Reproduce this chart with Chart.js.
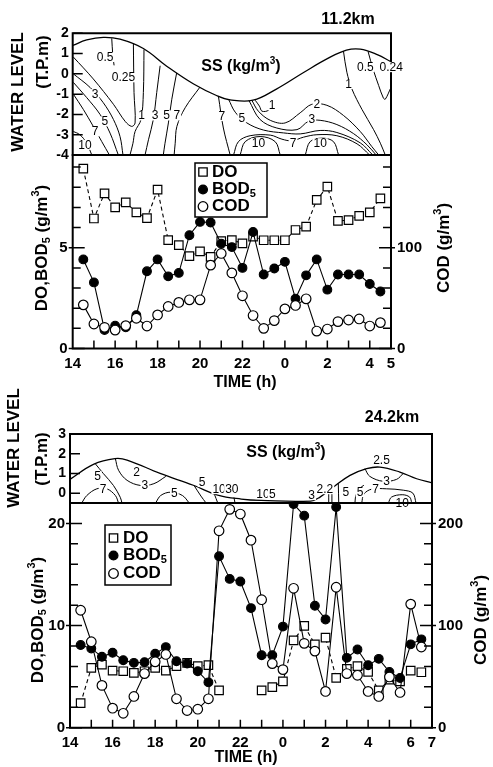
<!DOCTYPE html>
<html lang="en">
<head>
<meta charset="UTF-8">
<title>DO, BOD5, COD and SS at 11.2km / 24.2km</title>
<script src="https://cdn.jsdelivr.net/npm/chart.js@4.4.0/dist/chart.umd.min.js"></script>
<style>
    body { margin: 0; background: #fff; }
    #wrap { position: relative; width: 493px; height: 767px; }
    #wrap canvas { position: absolute; left: 0; top: 0; }
</style>
</head>
<body>
<div id="wrap">
    <canvas id="ss1" width="493" height="767"></canvas>
    <canvas id="wq1" width="493" height="767"></canvas>
    <canvas id="ss2" width="493" height="767"></canvas>
    <canvas id="wq2" width="493" height="767"></canvas>
</div>

<script>
const FONT = "'Liberation Sans', Arial, Helvetica, sans-serif";

// ---------- 11.2 km ----------
const hours1 = [14.5, 15, 15.5, 16, 16.5, 17, 17.5, 18, 18.5, 19, 19.5, 20, 20.5, 21, 21.5,
                22, 22.5, 23, 23.5, 24, 24.5, 25, 25.5, 26, 26.5, 27, 27.5, 28, 28.5];
const do1  = [8.92, 6.45, 7.7, 7.0, 7.25, 6.75, 6.47, 7.88, 5.38, 5.13, 4.58, 4.82, 4.55, 5.33, 5.38,
              5.22, 5.55, 5.37, 5.37, 5.37, 5.88, 6.05, 7.37, 8.03, 6.33, 6.37, 6.58, 6.75, 7.45];
const bod1 = [4.42, 3.28, 0.92, 1.13, 1.05, 1.65, 3.83, 4.42, 3.58, 3.75, 5.62, 6.28, 6.25, 5.2, 5.03,
              4.0, 5.78, 3.67, 3.97, 4.3, 2.47, 3.63, 4.42, 2.92, 3.67, 3.67, 3.67, 3.2, 2.83];
const cod1 = [43.3, 24.3, 21, 18.3, 22.7, 30, 22.3, 33.3, 41.7, 45.7, 48.3, 48.3, 82.7, 94.3, 75,
              52.3, 32.7, 20, 27.7, 39.3, 42.7, 49.3, 17.3, 19.3, 26.7, 28.3, 29.3, 22.3, 25.7];
const timeTicks1 = [14, 16, 18, 20, 22, 24, 26, 28, 29];
const doTicks1 = [0, 5];
const codTicks1 = [0, 100];
const levelTicks1 = [-4, -3, -2, -1, 0, 1, 2];

// water level (T.P.m) and SS contour lines (time h, level m)
const waterLevel1 = [[14, 1.4], [14.66, 1.67], [15.44, 1.8], [16.23, 1.71], [17.33, 1.25], [18.43, 0.38],
                     [19.7, -0.5], [20.8, -1.08], [21.42, -1.28], [22.5, -1.3], [23.6, -0.75], [24.9, 0.08],
                     [26.0, 0.75], [26.9, 1.17], [27.55, 1.22], [28.35, 0.95], [29, 0.6]];
const contours1 = [
    [[14.03, 0.83], [14.97, -0.25], [15.92, -1.5], [16.47, -2.34], [16.78, -2.59], [16.94, -2.42], [16.89, -0.92], [16.86, 1.5]],
    [[15.84, 1.75], [15.89, 0.92], [15.95, 0.42]],
    [[17.36, 1.2], [17.33, -0.92], [17.22, -2.25], [16.94, -2.84], [16.84, -3.42], [16.7, -4]],
    [[14.03, 0], [14.82, -0.67], [15.44, -1.42], [15.92, -2.25], [16.23, -3.09], [16.37, -4]],
    [[14.03, -0.42], [14.66, -1.17], [15.29, -2.0], [15.76, -2.92], [16.15, -4]],
    [[14.03, -1.0], [14.5, -1.75], [14.97, -2.59], [15.37, -3.34], [15.73, -4]],
    [[14.03, -2.84], [14.34, -3.0], [14.66, -3.42], [14.9, -4]],
    [[18.12, 0.4], [17.96, -0.92], [17.8, -2.25], [17.57, -3.25], [17.41, -4]],
    [[18.9, 0.05], [18.67, -1.25], [18.51, -2.42], [18.35, -3.42], [18.27, -4]],
    [[20.0, -0.65], [19.3, -1.67], [18.91, -2.59], [18.83, -3.42], [18.78, -4]],
    [[20.87, -1.12], [21.1, -2.67], [21.42, -4]],
    [[21.34, -1.24], [21.66, -1.89], [22.21, -2.42], [22.99, -2.77], [23.93, -2.91], [24.72, -2.96],
     [25.66, -2.79], [26.45, -2.89], [27.55, -3.4], [28.14, -4]],
    [[22.6, -1.3], [22.8, -1.59], [22.92, -1.84], [23.23, -1.79], [23.31, -1.5]],
    [[22.44, -1.3], [22.75, -1.84], [23.31, -2.29], [24.01, -2.42], [24.72, -1.92], [25.27, -1.5],
     [25.98, -1.55], [26.76, -2.05], [27.55, -2.84], [28.1, -3.59], [28.42, -4]],
    [[22.3, -1.3], [22.83, -2.25], [23.62, -2.67], [24.57, -2.75], [25.11, -2.34], [25.66, -2.29],
     [26.45, -2.5], [27.24, -2.95], [27.87, -3.5], [28.3, -4]],
    [[21.58, -4], [21.81, -3.34], [22.36, -3.05], [23.31, -3.02], [23.86, -3.22], [24.33, -3.3],
     [24.88, -3.12], [25.51, -3.0], [26.45, -3.05], [27.4, -3.45], [27.99, -4]],
    [[21.89, -4], [22.13, -3.34], [22.83, -3.09], [23.54, -3.34], [23.78, -4]],
    [[24.96, -4], [25.19, -3.34], [25.75, -3.17], [26.29, -3.34], [26.53, -4]],
    [[26.76, 1.12], [26.92, 0.08], [27.16, -0.75], [27.63, -1.75], [28.18, -2.75], [28.5, -3.42], [28.73, -4]],
    [[27.92, 1.1], [28.15, 0.25], [28.42, -0.58], [28.64, -1.19], [28.73, -1.25], [28.99, -0.69]]
];
const contourText1 = [
    ['0.5', 15.53, 0.83], ['0.25', 16.39, -0.17], ['3', 15.05, -1.0], ['5', 15.52, -2.34], ['7', 15.05, -2.84],
    ['10', 14.58, -3.5], ['1', 17.25, -2.05], ['3', 17.88, -2.05], ['5', 18.43, -2.05], ['7', 18.91, -2.05],
    ['7', 21.03, -2.08], ['5', 21.97, -2.17], ['1', 23.4, -1.54], ['2', 25.51, -1.5], ['3', 25.27, -2.25],
    ['10', 22.75, -3.42], ['7', 24.38, -3.42], ['10', 25.66, -3.42], ['1', 27.0, -0.5], ['0.5', 27.79, 0.33],
    ['0.24', 29.01, 0.33]
];

// ---------- 24.2 km ----------
const hours2 = [14.5, 15, 15.5, 16, 16.5, 17, 17.5, 18, 18.5, 19, 19.5, 20, 20.5, 21, 21.5, 22, 22.5,
                23, 23.5, 24, 24.5, 25, 25.5, 26, 26.5, 27, 27.5, 28, 28.5, 29, 29.5, 30, 30.5];
const do2  = [2.4, 5.86, 6.18, 5.59, 5.53, 5.36, 5.53, 5.86, 5.59, 6.02, 6.35, 6.02, 6.12, 3.65, null, null, null,
              3.65, 3.98, 4.54, 8.55, 9.97, 8.16, 8.82, 4.87, 5.76, 6.02, 5.46, 3.65, 4.7, 4.54, 5.59, 5.43];
const bod2 = [8.09, 7.76, 6.94, 7.34, 6.61, 6.35, 6.41, 7.24, 7.89, 6.51, 6.28, 5.53, 4.44, 16.78, 14.57, 14.31, 11.71,
              7.1, 7.1, 9.9, 21.9, 20.76, 11.94, 10.6, 21.6, 6.84, 7.66, 6.12, 6.74, 5.46, 4.87, 8.16, 8.65];
const cod2 = [115, 84.2, 41.4, 19.1, 14.1, 30.6, 53, 64.5, 71.7, 28.3, 16.8, 18.1, 28.3, 192.8, 213.8, 209.2, 183.6,
              125.3, 62.8, 56.9, 136.5, 82.6, 75, 35.5, 137.5, 53, 51.3, 35.5, 30.6, 49.7, 34.5, 121, 79];
const timeTicks2 = [14, 16, 18, 20, 22, 24, 26, 28, 30, 31];
const doTicks2 = [0, 10, 20];
const codTicks2 = [0, 100, 200];
const levelTicks2 = [0, 1, 2, 3];

const waterLevel2 = [[14, 0.7], [15.1, 1.46], [16.11, 1.75], [16.68, 1.68], [18.23, 1.0], [19.79, 0.4],
                     [20.94, -0.1], [22.04, -0.3], [22.98, -0.37], [25.3, -0.4], [25.74, -0.2], [26.36, 0.3],
                     [27.15, 0.9], [27.93, 1.24], [28.55, 1.32], [29.49, 1.07], [30.28, 0.73], [31, 0.52]];
const contours2 = [
    [[15.18, 1.5], [15.57, 0.99], [16.04, 0.39], [16.36, -0.21], [16.44, -0.5]],
    [[14.55, -0.5], [14.79, -0.12], [15.26, 0.22], [15.73, 0.22], [16.13, -0.12], [16.28, -0.5]],
    [[16.13, 1.75], [16.28, 1.16], [16.68, 0.65], [17.31, 0.39], [17.94, 0.48], [18.5, 0.85]],
    [[18.02, -0.5], [18.26, -0.12], [18.73, 0.05], [19.28, -0.12], [19.6, -0.5]],
    [[19.83, 0.38], [20.15, -0.15], [20.39, -0.5]],
    [[20.78, -0.05], [20.94, -0.5]],
    [[21.7, -0.22], [21.75, -0.5]],
    [[26.15, 0.1], [26.15, -0.5]],
    [[26.3, 0.3], [26.3, -0.5]],
    [[26.6, 0.5], [26.62, -0.5]],
    [[27.38, -0.5], [27.43, -0.1], [27.62, 0.25], [27.8, 0.4]],
    [[27.7, -0.5], [27.8, -0.05], [28.16, 0.2], [28.87, 0.22], [29.65, 0.15], [30.1, 0.0], [30.25, -0.5]],
    [[28.95, -0.5], [29.1, -0.2], [29.6, -0.08], [29.95, -0.2], [30.05, -0.5]],
    [[27.85, 1.24], [28.08, 0.85], [28.71, 0.6], [29.34, 0.7], [29.65, 1.0]]
];
const contourText2 = [
    ['5', 15.3, 0.85], ['7', 15.55, 0.2], ['2', 17.13, 1.07], ['3', 17.52, 0.39], ['5', 18.9, 0.0],
    ['5', 20.2, 0.56], ['10', 21.0, 0.2], ['30', 21.6, 0.2], ['10', 23.06, -0.05], ['5', 23.5, -0.05],
    ['3', 25.35, -0.1], ['2.2', 25.97, 0.2], ['5', 26.95, 0.05], ['5', 27.62, 0.05], ['7', 28.35, 0.2],
    ['3', 28.87, 0.62], ['2.5', 28.63, 1.66], ['10', 29.6, -0.5]
];

// ---------- drawing helpers ----------
function drawRich(ctx, segs, x, y, rot, size, align) {
    ctx.save();
    ctx.translate(x, y);
    ctx.rotate((rot || 0) * Math.PI / 180);
    ctx.fillStyle = '#000';
    ctx.textBaseline = 'middle';
    ctx.textAlign = 'left';
    const small = Math.round(size * 0.62);
    const widths = segs.map(s => {
        ctx.font = 'bold ' + (s[1] ? small : size) + 'px ' + FONT;
        return ctx.measureText(s[0]).width;
    });
    let cx = align === 'left' ? 0 : -widths.reduce((a, b) => a + b, 0) / 2;
    segs.forEach((s, i) => {
        ctx.font = 'bold ' + (s[1] ? small : size) + 'px ' + FONT;
        const dy = s[1] === 'sub' ? size * 0.28 : (s[1] === 'sup' ? -size * 0.33 : 0);
        ctx.fillText(s[0], cx, dy);
        cx += widths[i];
    });
    ctx.restore();
}

function drawMarker(ctx, kind, x, y) {
    ctx.save();
    ctx.lineWidth = 1.3;
    ctx.strokeStyle = '#000';
    ctx.beginPath();
    if (kind === 'rect') ctx.rect(x - 4.2, y - 4.2, 8.4, 8.4);
    else ctx.arc(x, y, kind === 'dot' ? 4.4 : 4.8, 0, Math.PI * 2);
    ctx.fillStyle = kind === 'dot' ? '#000' : '#fff';
    ctx.fill();
    ctx.stroke();
    ctx.restore();
}

// frame, inward ticks, texts, contour labels and legend
function makeDeco(cfg) {
    return {
        id: 'deco',
        afterDatasetsDraw(chart) {
            const ctx = chart.ctx, a = chart.chartArea;
            const sx = chart.scales.x, sy = chart.scales.y, sy2 = chart.scales.y2;
            ctx.save();
            ctx.strokeStyle = '#000';
            ctx.lineWidth = 2;
            ctx.beginPath();
            ctx.rect(a.left, a.top, a.right - a.left, a.bottom - a.top);
            ctx.stroke();

            ctx.lineWidth = 1.5;
            ctx.beginPath();
            (cfg.yMinor || []).forEach(v => {
                const p = sy.getPixelForValue(v);
                ctx.moveTo(a.left, p); ctx.lineTo(a.left + cfg.tick, p);
            });
            (cfg.yMajor || []).forEach(v => {
                const p = sy.getPixelForValue(v);
                ctx.moveTo(a.left - 4, p); ctx.lineTo(a.left + cfg.tick + 4, p);
            });
            (cfg.y2Minor || []).forEach(v => {
                const p = sy2.getPixelForValue(v);
                ctx.moveTo(a.right, p); ctx.lineTo(a.right - cfg.tick, p);
            });
            (cfg.y2Major || []).forEach(v => {
                const p = sy2.getPixelForValue(v);
                ctx.moveTo(a.right + 4, p); ctx.lineTo(a.right - cfg.tick - 4, p);
            });
            (cfg.xMinor || []).forEach(v => {
                const p = sx.getPixelForValue(v);
                ctx.moveTo(p, a.bottom); ctx.lineTo(p, a.bottom - cfg.tick);
            });
            ctx.stroke();

            (cfg.labels || []).forEach(l => {
                const px = sx.getPixelForValue(l[1]), py = sy.getPixelForValue(l[2]);
                ctx.font = '12px ' + FONT;
                const w = ctx.measureText(l[0]).width;
                ctx.fillStyle = '#fff';
                ctx.fillRect(px - w / 2 - 1, py - 5, w + 2, 10);
                ctx.fillStyle = '#000';
                ctx.textAlign = 'center';
                ctx.textBaseline = 'middle';
                ctx.fillText(l[0], px, py + 0.5);
            });

            (cfg.texts || []).forEach(t => drawRich(ctx, t.segs, t.x, t.y, t.rot, t.size));

            const lg = cfg.legend;
            if (lg) {
                ctx.fillStyle = '#fff';
                ctx.fillRect(lg.x, lg.y, lg.w, lg.h);
                ctx.lineWidth = 1.5;
                ctx.strokeRect(lg.x, lg.y, lg.w, lg.h);
                lg.items.forEach((it, i) => {
                    drawMarker(ctx, it.kind, lg.mx, lg.ys[i]);
                    drawRich(ctx, it.segs, lg.tx, lg.ys[i], 0, 17, 'left');
                });
            }
            ctx.restore();
        }
    };
}

const legendItems = [
    { kind: 'rect', segs: [['DO']] },
    { kind: 'dot', segs: [['BOD'], ['5', 'sub']] },
    { kind: 'ring', segs: [['COD']] }
];

function range(a, b, step) {
    const out = [];
    for (let v = a; v <= b + 1e-9; v += step) out.push(Math.round(v * 100) / 100);
    return out;
}

function fixedTicks(vals) {
    return s => { s.ticks = vals.map(v => ({ value: v })); };
}

// SS contour panel
function makeContour(id, p) {
    const datasets = [{
        data: p.level.map(q => ({ x: q[0], y: q[1] })),
        borderColor: '#000', borderWidth: 1.3, pointRadius: 0, tension: 0.4
    }].concat(p.contours.map(c => ({
        data: c.map(q => ({ x: q[0], y: q[1] })),
        borderColor: '#000', borderWidth: 1, pointRadius: 0, tension: 0.35
    })));
    new Chart(document.getElementById(id), {
        type: 'line',
        data: { datasets },
        options: {
            responsive: false, animation: false, events: [],
            layout: { padding: { left: 0, top: p.area.top, right: 493 - p.area.right, bottom: 767 - p.area.bottom } },
            plugins: { legend: { display: false }, tooltip: { enabled: false } },
            scales: {
                x: { type: 'linear', min: p.xmin, max: p.xmax, display: false },
                y: {
                    min: p.ymin, max: p.ymax,
                    afterBuildTicks: fixedTicks(p.yTicks),
                    afterFit: s => { s.width = p.area.left; },
                    grid: { display: false, drawTicks: false }, border: { display: false },
                    ticks: { padding: 4, color: '#000', font: { family: FONT, size: 14, weight: 'bold' } }
                }
            }
        },
        plugins: [makeDeco({ tick: 10, yMinor: p.yTicks, labels: p.labels, texts: p.texts })]
    });
}

// DO / BOD5 / COD panel
function makeQuality(id, p) {
    const pts = arr => p.hours.map((t, i) => ({ x: t, y: arr[i] }));
    new Chart(document.getElementById(id), {
        type: 'line',
        data: {
            datasets: [
                { label: 'COD', data: pts(p.cod), yAxisID: 'y2', borderColor: '#000', borderWidth: 1.1,
                  pointStyle: 'circle', pointRadius: 4.8, pointBackgroundColor: '#fff', pointBorderColor: '#000',
                  pointBorderWidth: 1.2, tension: 0 },
                { label: 'BOD5', data: pts(p.bod), yAxisID: 'y', borderColor: '#000', borderWidth: 1.1,
                  pointStyle: 'circle', pointRadius: 4.4, pointBackgroundColor: '#000', pointBorderColor: '#000',
                  tension: 0 },
                { label: 'DO', data: pts(p.do), yAxisID: 'y', borderColor: '#000', borderWidth: 1.1,
                  borderDash: [4, 3], pointStyle: 'rect', pointRadius: 6, pointBackgroundColor: '#fff',
                  pointBorderColor: '#000', pointBorderWidth: 1.2, spanGaps: false, tension: 0 }
            ]
        },
        options: {
            responsive: false, animation: false, events: [],
            layout: { padding: { left: 0, top: p.area.top, right: 0, bottom: 767 - p.area.bottom - 30 } },
            plugins: { legend: { display: false }, tooltip: { enabled: false } },
            scales: {
                x: {
                    type: 'linear', min: p.xmin, max: p.xmax,
                    afterBuildTicks: fixedTicks(p.xTicks),
                    afterFit: s => { s.height = 30; },
                    grid: { display: false, drawTicks: false }, border: { display: false },
                    ticks: { padding: 6, autoSkip: false, maxRotation: 0, color: '#000',
                             font: { family: FONT, size: 15, weight: 'bold' },
                             callback: v => String(v % 24) }
                },
                y: {
                    position: 'left', min: 0, max: p.ymax,
                    afterBuildTicks: fixedTicks(p.yTicks),
                    afterFit: s => { s.width = p.area.left; },
                    grid: { display: false, drawTicks: false }, border: { display: false },
                    ticks: { padding: 5, color: '#000', font: { family: FONT, size: 15, weight: 'bold' } }
                },
                y2: {
                    position: 'right', min: 0, max: p.y2max,
                    afterBuildTicks: fixedTicks(p.y2Ticks),
                    afterFit: s => { s.width = 493 - p.area.right; },
                    grid: { display: false, drawTicks: false }, border: { display: false },
                    ticks: { padding: 6, color: '#000', font: { family: FONT, size: 15, weight: 'bold' } }
                }
            }
        },
        plugins: [makeDeco({
            tick: 8, yMinor: range(0, p.ymax, p.yStep), yMajor: p.yTicks,
            y2Minor: range(0, p.y2max, p.yStep * p.y2max / p.ymax), y2Major: p.y2Ticks,
            xMinor: range(Math.ceil(p.xmin) + 1, Math.floor(p.xmax) - 1, 1),
            texts: p.texts, legend: p.legend
        })]
    });
}

const ssTitle = [['SS (kg/m'], ['3', 'sup'], [')']];
const doTitle = [['DO,BOD'], ['5', 'sub'], [' (g/m'], ['3', 'sup'], [')']];
const codTitle = [['COD (g/m'], ['3', 'sup'], [')']];

makeContour('ss1', {
    area: { left: 72.7, right: 391, top: 33.3, bottom: 155 },
    xmin: 14, xmax: 29, ymin: -4, ymax: 2, yTicks: levelTicks1,
    level: waterLevel1, contours: contours1, labels: contourText1,
    texts: [
        { segs: [['11.2km']], x: 348, y: 20, size: 16 },
        { segs: ssTitle, x: 241, y: 67, size: 16 },
        { segs: [['WATER LEVEL']], x: 18, y: 92, rot: -90, size: 17 },
        { segs: [['(T.P.m)']], x: 43, y: 62, rot: -90, size: 17 }
    ]
});

makeQuality('wq1', {
    area: { left: 72.7, right: 391, top: 155, bottom: 348.5 },
    xmin: 14, xmax: 29, xTicks: timeTicks1, ymax: 9.6, yStep: 1, yTicks: doTicks1,
    y2max: 192, y2Ticks: codTicks1,
    hours: hours1, do: do1, bod: bod1, cod: cod1,
    texts: [
        { segs: doTitle, x: 42, y: 248, rot: -90, size: 17 },
        { segs: codTitle, x: 444, y: 248, rot: -90, size: 17 },
        { segs: [['TIME (h)']], x: 245, y: 383, size: 16 }
    ],
    legend: { x: 195, y: 163, w: 72, h: 54, mx: 203, tx: 212, ys: [172, 189.5, 206.5], items: legendItems }
});

makeContour('ss2', {
    area: { left: 70, right: 432, top: 434, bottom: 503 },
    xmin: 14, xmax: 31, ymin: -0.5, ymax: 3, yTicks: levelTicks2,
    level: waterLevel2, contours: contours2, labels: contourText2,
    texts: [
        { segs: [['24.2km']], x: 392, y: 418, size: 16 },
        { segs: ssTitle, x: 286, y: 453, size: 16 },
        { segs: [['WATER LEVEL']], x: 14, y: 448, rot: -90, size: 17 },
        { segs: [['(T.P.m)']], x: 42, y: 459, rot: -90, size: 17 }
    ]
});

makeQuality('wq2', {
    area: { left: 70, right: 432, top: 503, bottom: 727.7 },
    xmin: 14, xmax: 31, xTicks: timeTicks2, ymax: 22, yStep: 2, yTicks: doTicks2,
    y2max: 220, y2Ticks: codTicks2,
    hours: hours2, do: do2, bod: bod2, cod: cod2,
    texts: [
        { segs: doTitle, x: 38, y: 620, rot: -90, size: 17 },
        { segs: codTitle, x: 481, y: 620, rot: -90, size: 17 },
        { segs: [['TIME (h)']], x: 246, y: 758, size: 16 }
    ],
    legend: { x: 105, y: 525, w: 66, h: 60, mx: 113.5, tx: 123, ys: [538, 555.5, 573.5], items: legendItems }
});
</script>
</body>
</html>
